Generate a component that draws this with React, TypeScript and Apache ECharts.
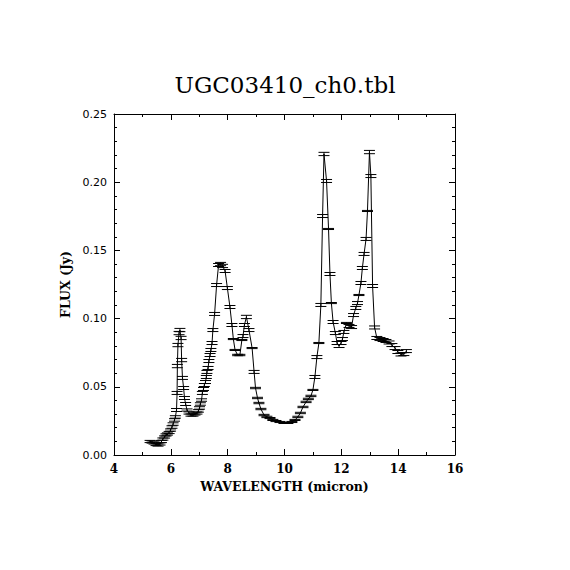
import React, { useEffect, useRef } from "react";
import * as echarts from "echarts";

const TITLE = "UGC03410_ch0.tbl";
const X_NAME = "WAVELENGTH (micron)";
const Y_NAME = "FLUX (Jy)";

const wavelength = [
  5.27, 5.34, 5.41, 5.48, 5.55, 5.62, 5.67, 5.72, 5.78, 5.83, 5.88, 5.94, 5.99, 6.04, 6.08, 6.13, 6.16,
  6.2, 6.22, 6.23, 6.25, 6.29, 6.32, 6.36, 6.38, 6.41, 6.45, 6.48, 6.52, 6.57, 6.64, 6.71, 6.78, 6.85,
  6.92, 6.97, 7.01, 7.04, 7.08, 7.11, 7.15, 7.18, 7.22, 7.25, 7.27, 7.31, 7.34, 7.38, 7.41, 7.45, 7.48,
  7.54, 7.61, 7.68, 7.75, 7.82, 7.91, 7.99, 8.08, 8.15, 8.2, 8.26, 8.35, 8.43, 8.5, 8.54, 8.59, 8.66,
  8.75, 8.86, 8.93, 8.98, 9.05, 9.1, 9.17, 9.28, 9.38, 9.49, 9.59, 9.7, 9.84, 9.98, 10.12, 10.26, 10.37,
  10.47, 10.56, 10.65, 10.76, 10.84, 10.93, 11.0, 11.07, 11.14, 11.21, 11.28, 11.34, 11.39, 11.48, 11.55,
  11.6, 11.65, 11.71, 11.79, 11.85, 11.92, 11.99, 12.04, 12.09, 12.18, 12.27, 12.36, 12.43, 12.51, 12.57,
  12.62, 12.69, 12.74, 12.8, 12.87, 12.92, 12.99, 13.04, 13.1, 13.17, 13.25, 13.36, 13.47, 13.57, 13.68,
  13.78, 13.89, 13.99, 14.1, 14.2, 14.29,
];

const flux = [
  0.0099, 0.0095, 0.0088, 0.0077, 0.0073, 0.0081, 0.0099, 0.0117, 0.0132, 0.0147, 0.0154, 0.0165, 0.0183,
  0.0205, 0.0227, 0.0257, 0.0279, 0.033, 0.0455, 0.0652, 0.0806, 0.0894, 0.0916, 0.0858, 0.0696, 0.0565,
  0.0491, 0.0418, 0.0374, 0.033, 0.0308, 0.0293, 0.0293, 0.0301, 0.0308, 0.0323, 0.0345, 0.0374, 0.0403,
  0.0455, 0.0484, 0.0513, 0.0535, 0.0572, 0.0609, 0.0638, 0.0689, 0.0733, 0.077, 0.0821, 0.0916, 0.1034,
  0.1246, 0.1393, 0.14, 0.1386, 0.1349, 0.1224, 0.1085, 0.0953, 0.085, 0.077, 0.0733, 0.0733, 0.0843,
  0.0872, 0.0953, 0.1012, 0.0916, 0.0784, 0.0609, 0.0491, 0.0418, 0.0381, 0.0337, 0.0293, 0.0279, 0.0271,
  0.0257, 0.0249, 0.0242, 0.0235, 0.0235, 0.0242, 0.0257, 0.0279, 0.0308, 0.0352, 0.0389, 0.0411, 0.0433,
  0.0477, 0.0572, 0.0718, 0.0821, 0.11, 0.1752, 0.2207, 0.2009, 0.1657, 0.1327, 0.1114, 0.0975, 0.0894,
  0.0821, 0.0799, 0.0821, 0.085, 0.0902, 0.0968, 0.0946, 0.0938, 0.1026, 0.1078, 0.1114, 0.1173, 0.1261,
  0.1371, 0.1474, 0.1584, 0.1789, 0.2221, 0.2045, 0.1239, 0.0935, 0.0858, 0.085, 0.0843, 0.0836, 0.0825,
  0.0806, 0.0784, 0.0755, 0.0737, 0.074, 0.0762,
];

const fluxErr = [
  0.0008, 0.0008, 0.0008, 0.0008, 0.0008, 0.0008, 0.0008, 0.0008, 0.0008, 0.0008, 0.0008, 0.0008, 0.0008,
  0.0009, 0.0009, 0.0009, 0.0009, 0.0011, 0.0011, 0.0012, 0.0012, 0.0012, 0.0012, 0.0012, 0.0012, 0.0011,
  0.0011, 0.0011, 0.0011, 0.0008, 0.0008, 0.0008, 0.0008, 0.0008, 0.0008, 0.0009, 0.0009, 0.0009, 0.0009,
  0.0011, 0.0011, 0.0011, 0.0011, 0.0011, 0.0011, 0.0011, 0.0011, 0.0011, 0.0011, 0.0011, 0.0011, 0.0011,
  0.0011, 0.0011, 0.0012, 0.0012, 0.0011, 0.0011, 0.0011, 0.0011, 0.0004, 0.0004, 0.0005, 0.0005, 0.0004,
  0.0011, 0.0011, 0.0012, 0.0011, 0.0004, 0.0011, 0.0005, 0.0005, 0.0005, 0.0005, 0.0005, 0.0005, 0.0004,
  0.0004, 0.0004, 0.0004, 0.0004, 0.0004, 0.0004, 0.0004, 0.0005, 0.0005, 0.0005, 0.0005, 0.0005, 0.0005,
  0.0004, 0.0011, 0.0011, 0.0004, 0.0011, 0.0011, 0.0012, 0.0011, 0.0004, 0.0011, 0.0004, 0.0011, 0.0011,
  0.0011, 0.0011, 0.0011, 0.0011, 0.0011, 0.0004, 0.0011, 0.0011, 0.0011, 0.0011, 0.0011, 0.0004, 0.0011,
  0.0011, 0.0011, 0.0011, 0.0004, 0.0012, 0.0011, 0.0011, 0.0011, 0.0011, 0.0011, 0.0011, 0.0011, 0.0011,
  0.0011, 0.0011, 0.0011, 0.0011, 0.0011, 0.0011,
];

const X_MIN = 4;
const X_MAX = 16;
const X_STEP = 2;
const Y_MIN = 0;
const Y_MAX = 0.25;
const Y_STEP = 0.05;

export default function App() {
  const ref = useRef<HTMLDivElement>(null);

  useEffect(() => {
    if (!ref.current) return;
    const chart = echarts.init(ref.current, undefined, { renderer: "svg" });

    const lineData = wavelength.map((w, i) => [w, flux[i]]);
    const errData = wavelength.map((w, i) => [w, flux[i], fluxErr[i]]);

    const tickCommon = {
      axisLine: { show: true, onZero: false, lineStyle: { color: "#000", width: 1 } },
      axisTick: { show: true, inside: true, length: 6, lineStyle: { color: "#000", width: 1 } },
      minorTick: { show: true, length: 3, lineStyle: { color: "#000", width: 1 } },
      splitLine: { show: false },
      minorSplitLine: { show: false },
    };

    const option: any = {
      animation: false,
      backgroundColor: "#fff",
      title: {
        text: TITLE,
        left: "center",
        top: 68,
        textStyle: {
          fontFamily: "DejaVu Serif",
          fontSize: 23,
          fontWeight: "normal",
          color: "#000",
        },
      },
      grid: { left: 114, top: 114, width: 341, height: 341 },
      xAxis: [
        {
          type: "value",
          position: "bottom",
          min: X_MIN,
          max: X_MAX,
          interval: X_STEP,
          ...tickCommon,
          minorTick: { ...tickCommon.minorTick, splitNumber: 2 },
          axisLabel: {
            show: true,
            margin: 8,
            fontFamily: "DejaVu Serif",
            fontSize: 12,
            fontWeight: "bold",
            color: "#000",
          },
          name: X_NAME,
          nameLocation: "middle",
          nameGap: 24,
          nameTextStyle: {
            fontFamily: "DejaVu Serif",
            fontSize: 12.5,
            fontWeight: "bold",
            color: "#000",
          },
        },
        {
          type: "value",
          position: "top",
          min: X_MIN,
          max: X_MAX,
          interval: X_STEP,
          ...tickCommon,
          minorTick: { ...tickCommon.minorTick, splitNumber: 2 },
          axisLabel: { show: false },
        },
      ],
      yAxis: [
        {
          type: "value",
          position: "left",
          min: Y_MIN,
          max: Y_MAX,
          interval: Y_STEP,
          ...tickCommon,
          minorTick: { ...tickCommon.minorTick, splitNumber: 5 },
          axisLabel: {
            show: true,
            margin: 7,
            fontFamily: "DejaVu Sans",
            fontSize: 11,
            color: "#000",
            formatter: (v: number) => v.toFixed(2),
          },
          name: Y_NAME,
          nameLocation: "middle",
          nameGap: 42,
          nameRotate: 90,
          nameTextStyle: {
            fontFamily: "DejaVu Serif",
            fontSize: 12.5,
            fontWeight: "bold",
            color: "#000",
          },
        },
        {
          type: "value",
          position: "right",
          min: Y_MIN,
          max: Y_MAX,
          interval: Y_STEP,
          ...tickCommon,
          minorTick: { ...tickCommon.minorTick, splitNumber: 5 },
          axisLabel: { show: false },
        },
      ],
      series: [
        {
          type: "line",
          xAxisIndex: 0,
          yAxisIndex: 0,
          data: lineData,
          showSymbol: false,
          symbol: "none",
          lineStyle: { color: "#000", width: 1 },
          z: 2,
        },
        {
          type: "custom",
          xAxisIndex: 0,
          yAxisIndex: 0,
          data: errData,
          encode: { x: 0, y: 1 },
          z: 3,
          renderItem: (params: any, api: any) => {
            const x = api.value(0);
            const y = api.value(1);
            const e = api.value(2);
            const top = api.coord([x, y + e]);
            const bot = api.coord([x, y - e]);
            const hw = 5.5;
            const st = { stroke: "#000", lineWidth: 1 };
            return {
              type: "group",
              children: [
                { type: "line", shape: { x1: top[0], y1: top[1], x2: bot[0], y2: bot[1] }, style: st },
                { type: "line", shape: { x1: top[0] - hw, y1: top[1], x2: top[0] + hw, y2: top[1] }, style: st },
                { type: "line", shape: { x1: bot[0] - hw, y1: bot[1], x2: bot[0] + hw, y2: bot[1] }, style: st },
              ],
            };
          },
        },
      ],
    };

    chart.setOption(option);
    return () => chart.dispose();
  }, []);

  return (
    <div
      ref={ref}
      style={{ position: "absolute", left: 0, top: 0, width: 570, height: 570, background: "#fff" }}
    />
  );
}
